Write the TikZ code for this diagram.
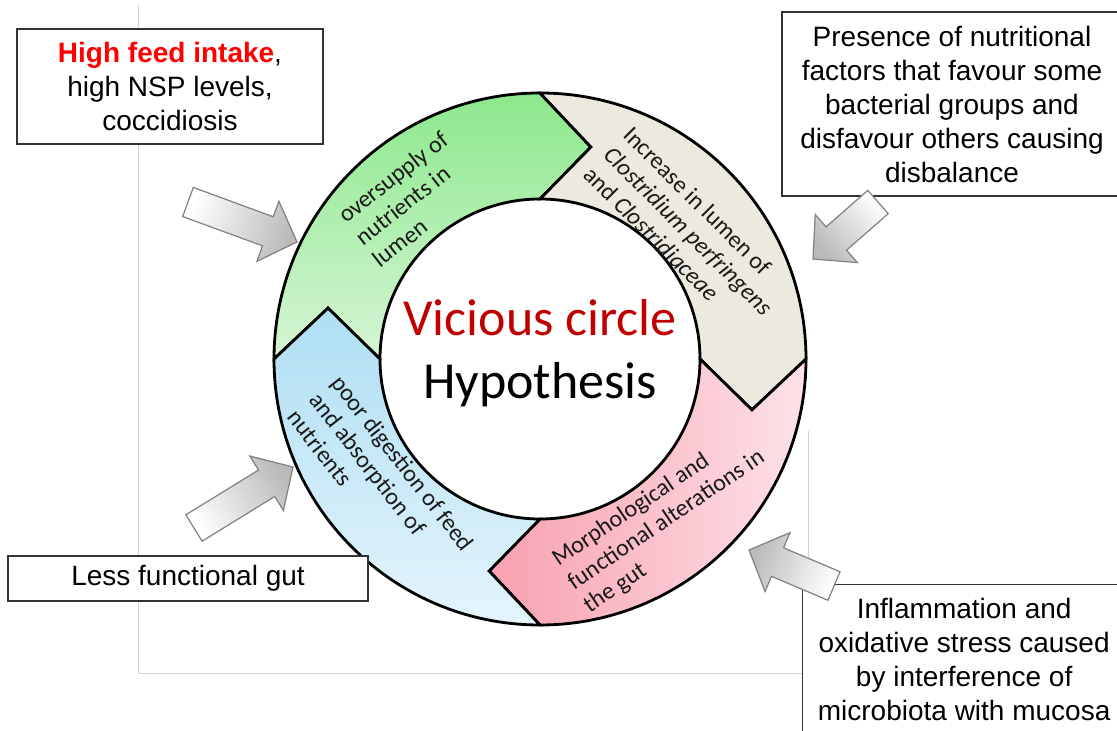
\documentclass[tikz,border=0pt]{standalone}
\usepackage{fontspec}
\setmainfont{Liberation Sans}
\newfontfamily\calibri{Carlito}
\usetikzlibrary{calc}

\definecolor{feedred}{RGB}{255,0,0}
\definecolor{circlered}{RGB}{192,0,0}
\definecolor{greentop}{RGB}{140,232,140}
\definecolor{greenbottom}{RGB}{214,245,214}
\definecolor{beige}{RGB}{236,233,222}
\definecolor{pinkleft}{RGB}{248,160,176}
\definecolor{pinkright}{RGB}{253,226,231}
\definecolor{bluetop}{RGB}{174,222,243}
\definecolor{bluebottom}{RGB}{228,244,251}
\definecolor{framegray}{RGB}{210,210,210}

\tikzstyle{factor} =
  [ rectangle
  , draw=black!80
  , line width=1.3pt
  , fill=white
  , align=center
  , font=\fontsize{28}{34}\selectfont
  ]
\tikzstyle{ring_part} =
  [ draw=black
  , line width=2.8pt
  , line join=miter
  ]
\tikzstyle{ring_text} =
  [ align=left
  , text=black!90
  , font=\calibri\fontsize{24}{28}\selectfont
  ]
\tikzstyle{block_arrow} =
  [ draw=gray
  , line width=1.2pt
  , top color=black!27
  , bottom color=white
  ]

% radii of the ring and of the chevron tips
\def\Rout{266}
\def\Rin{160}
\def\Rtip{218}

% one part of the ring: tail angle, head angle, fill
\newcommand{\ringpart}[3]{%
  \draw[ring_part,#3] (#1:\Rout) arc[start angle=#1, end angle=#2, radius=\Rout]
    -- ({#2-13.5}:\Rtip) -- (#2:\Rin)
    arc[start angle=#2, end angle=#1, radius=\Rin]
    -- ({#1-13.5}:\Rtip) -- cycle;}

% fat grey arrow: tail, tip, shading angle
\newcommand{\blockarrow}[3]{%
  \coordinate (#1_head) at ($(#2)!31pt!(#1)$);
  \draw[block_arrow, shading angle=#3]
    ($(#1)!15.5pt!90:(#2)$) -- ($(#1_head)!15.5pt!90:(#2)$)
    -- ($(#1_head)!32pt!90:(#2)$) -- (#2)
    -- ($(#1_head)!32pt!-90:(#2)$) -- ($(#1_head)!15.5pt!-90:(#2)$)
    -- ($(#1)!15.5pt!-90:(#2)$) -- cycle;}

\begin{document}
\begin{tikzpicture}[x=1pt, y=1pt]
  \useasboundingbox (0,0) rectangle (1117,731);

  % faint frame lines
  \draw[framegray, line width=0.8pt] (138,726) -- (138,58) -- (808,58) -- (808,300);

  \begin{scope}[shift={(540,372)}]
    \ringpart{180}{90}{top color=greentop, bottom color=greenbottom}
    \ringpart{90}{0}{fill=beige}
    \ringpart{0}{-90}{left color=pinkleft, right color=pinkright}
    \ringpart{-90}{-180}{top color=bluetop, bottom color=bluebottom}

    \node[ring_text, rotate=38]  (oversupply) at (129:206)   {oversupply of\\nutrients in\\lumen};
    \node[ring_text, rotate=-45] (clostridia) at (40.8:196)  {Increase in lumen of\\\textit{Clostridium perfringens}\\and \textit{Clostridiaceae}};
    \node[ring_text, rotate=34]  (alteration) at (-51.9:205) {Morphological and\\functional alterations in\\the gut};
    \node[ring_text, rotate=-52] (digestion)  at (217.3:200) {poor digestion of feed\\and absorption of\\nutrients};

    \node[align=center, font=\calibri\fontsize{52}{63}\selectfont] (hypothesis) at (0,6)
      {\textcolor{circlered}{Vicious circle}\\Hypothesis};
  \end{scope}

  % the four factors
  \node[factor, minimum width=306pt, minimum height=115pt] (feed) at (170,644.5)
    {\textcolor{feedred}{\textbf{High feed intake}},\\high NSP levels,\\coccidiosis};
  \node[factor, minimum width=340pt, minimum height=184pt] (bacteria) at (952,627)
    {Presence of nutritional\\factors that favour some\\bacterial groups and\\disfavour others causing\\disbalance};
  \node[factor, minimum width=360pt, minimum height=45pt] (gut) at (188,152.5) {Less functional gut};
  \node[factor, minimum width=323pt, inner ysep=13.5pt, anchor=north west] (mucosa) at (802,147)
    {Inflammation and\\oxidative stress caused\\by interference of\\microbiota with mucosa};

  % arrows into the ring
  \coordinate (feed_tail) at (188,529);
  \coordinate (feed_tip)  at (297,489);
  \blockarrow{feed_tail}{feed_tip}{-110}
  \coordinate (bacteria_tail) at (878,529);
  \coordinate (bacteria_tip)  at (813,472);
  \blockarrow{bacteria_tail}{bacteria_tip}{131}
  \coordinate (gut_tail) at (194,203);
  \coordinate (gut_tip)  at (293,264);
  \blockarrow{gut_tail}{gut_tip}{-58}
  \coordinate (mucosa_tail) at (834,145);
  \coordinate (mucosa_tip)  at (749,181);
  \blockarrow{mucosa_tail}{mucosa_tip}{67}
\end{tikzpicture}
\end{document}
